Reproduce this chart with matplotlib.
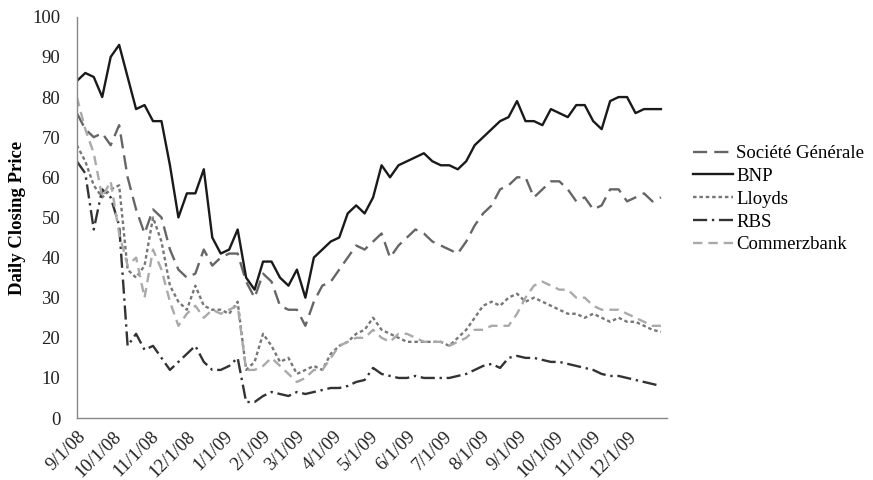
import matplotlib
matplotlib.use('Agg')
import matplotlib.pyplot as plt
import pandas as pd

# weekly readings, starting Monday 9/1/08
dates = pd.date_range('2008-09-01', periods=70, freq='7D')

soc_gen = [76, 72, 70, 71, 68, 73, 60, 52, 46, 52, 50, 42, 37, 35, 36, 42, 38, 40, 41, 41,
           34, 30, 36, 34, 28, 27, 27, 23, 29, 33, 34, 37, 40, 43, 42, 44, 46, 40, 43, 45,
           47, 46, 44, 43, 42, 41, 44, 48, 51, 53, 57, 58, 60, 60, 55, 57, 59, 59, 57, 54,
           55, 52, 53, 57, 57, 54, 55, 56, 54, 55]
bnp = [84, 86, 85, 80, 90, 93, 85, 77, 78, 74, 74, 63, 50, 56, 56, 62, 45, 41, 42, 47,
       35, 32, 39, 39, 35, 33, 37, 30, 40, 42, 44, 45, 51, 53, 51, 55, 63, 60, 63, 64,
       65, 66, 64, 63, 63, 62, 64, 68, 70, 72, 74, 75, 79, 74, 74, 73, 77, 76, 75, 78,
       78, 74, 72, 79, 80, 80, 76, 77, 77, 77]
lloyds = [68, 64, 58, 55, 57, 58, 37, 35, 38, 50, 44, 33, 29, 27, 33, 28, 27, 27, 26, 29,
          12, 14, 21, 18, 14, 15, 11, 12, 13, 12, 16, 18, 19, 21, 22, 25, 22, 21, 20, 19,
          19, 19, 19, 19, 18, 20, 22, 25, 28, 29, 28, 30, 31, 29, 30, 29, 28, 27, 26, 26,
          25, 26, 25, 24, 25, 24, 24, 23, 22, 21.5]
rbs = [64, 61, 47, 57, 55, 48, 18, 21, 17, 18, 15, 12, 14, 16, 18, 14, 12, 12, 13, 15,
       4, 4, 5.5, 6.5, 6, 5.5, 6.5, 6, 6.5, 7, 7.5, 7.5, 8, 9, 9.5, 12.5, 11, 10.5, 10, 10,
       10.5, 10, 10, 10, 10, 10.5, 11, 12, 13, 13.5, 12.5, 15, 15.5, 15, 15, 14.5, 14, 14,
       13.5, 13, 12.5, 12, 11, 10.5, 10.5, 10, 9.5, 9, 8.5, 8]
commerz = [80, 72, 66, 55, 59, 46, 38, 40, 30, 42, 37, 29, 23, 26, 28, 25, 27, 26, 27, 28,
           12, 12, 13, 15, 13, 11, 9, 10, 12, 12, 15, 18, 19, 20, 20, 22, 20, 19, 21, 21,
           20, 19, 19, 19, 18, 19, 20, 22, 22, 23, 23, 23, 26, 30, 33, 34, 33, 32, 32, 30,
           30, 28, 27, 27, 27, 26, 25, 24, 23, 23]

series = [
    ('Société Générale', soc_gen, '#666666', (0, (6, 3))),
    ('BNP', bnp, '#1a1a1a', '-'),
    ('Lloyds', lloyds, '#777777', (0, (1.5, 1.2))),
    ('RBS', rbs, '#333333', (0, (6, 2, 1, 2))),
    ('Commerzbank', commerz, '#aaaaaa', (0, (4, 2.5))),
]

tick_dates = pd.date_range('2008-09-01', '2009-12-01', freq='MS')
tick_labels = ['%d/%d/%s' % (d.month, d.day, d.strftime('%y')) for d in tick_dates]

plt.rcParams['font.family'] = ['Liberation Serif', 'DejaVu Serif']
fs = 13.5

fig = plt.figure(figsize=(8.73, 4.8), dpi=100)
ax = fig.add_axes([0.088, 0.129, 0.676, 0.836])

for name, vals, col, ls in series:
    ax.plot(dates, vals, color=col, linestyle=ls, linewidth=1.7, label=name)

ax.set_ylim(0, 100)
ax.set_yticks(range(0, 101, 10))
ax.set_xlim(pd.Timestamp('2008-09-01'), pd.Timestamp('2010-01-02'))
ax.set_xticks(tick_dates)
ax.set_xticklabels(tick_labels, rotation=45, ha='right', rotation_mode='anchor')
ax.tick_params(axis='both', length=0, labelsize=fs, colors='#222222')
ax.tick_params(axis='y', pad=12)
ax.tick_params(axis='x', pad=7)
ax.set_ylabel('Daily Closing Price', fontsize=fs, fontweight='bold', labelpad=4)

for side in ['top', 'right']:
    ax.spines[side].set_visible(False)
for side in ['left', 'bottom']:
    ax.spines[side].set_color('#888888')
    ax.spines[side].set_linewidth(1.0)

ax.legend(loc='center left', bbox_to_anchor=(0.794, 0.585), bbox_transform=fig.transFigure,
          frameon=False, fontsize=fs, handlelength=2.1, handletextpad=0.2,
          labelspacing=0.3, borderaxespad=0, borderpad=0)

fig.savefig('out.png', dpi=100)
